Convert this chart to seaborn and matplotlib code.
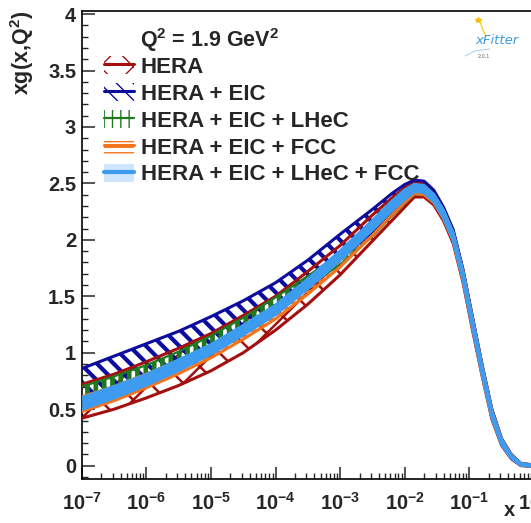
import numpy as np
import pandas as pd
import matplotlib
matplotlib.use("Agg")
import matplotlib.pyplot as plt
import seaborn as sns
from matplotlib.patches import Patch
from matplotlib.lines import Line2D
from matplotlib.ticker import MultipleLocator, LogLocator, FixedLocator, FuncFormatter, NullFormatter

# ---- gluon distribution xg(x, Q^2) at Q^2 = 1.9 GeV^2: uncertainty bands ----
log_x = [-7, -6.5, -6, -5.5, -5, -4.5, -4, -3.5, -3, -2.5, -2.2, -2.0, -1.85, -1.7,
         -1.55, -1.4, -1.25, -1.1, -0.95, -0.8, -0.65, -0.5, -0.35, -0.2, 0]

hera_lo = [0.42, 0.50, 0.60, 0.71, 0.84, 1.00, 1.20, 1.43, 1.69, 1.99, 2.17, 2.29, 2.38, 2.38,
           2.31, 2.17, 1.97, 1.63, 1.20, 0.79, 0.41, 0.18, 0.06, 0.0, -0.007]
hera_hi = [0.72, 0.81, 0.92, 1.04, 1.17, 1.33, 1.50, 1.72, 1.95, 2.22, 2.37, 2.46, 2.51, 2.50,
           2.43, 2.28, 2.08, 1.74, 1.31, 0.89, 0.50, 0.24, 0.10, 0.02, 0.007]

eic_lo = [0.60, 0.69, 0.79, 0.91, 1.04, 1.20, 1.39, 1.60, 1.83, 2.07, 2.25, 2.36, 2.44, 2.43,
          2.35, 2.21, 2.01, 1.67, 1.24, 0.82, 0.435, 0.19, 0.068, 0.004, -0.005]
eic_hi = [0.86, 0.97, 1.08, 1.19, 1.32, 1.46, 1.62, 1.82, 2.05, 2.27, 2.41, 2.49, 2.53, 2.52,
          2.44, 2.29, 2.09, 1.74, 1.31, 0.88, 0.49, 0.235, 0.094, 0.017, 0.006]

lhec_lo = [0.59, 0.68, 0.79, 0.91, 1.05, 1.21, 1.40, 1.59, 1.78, 2.03, 2.21, 2.32, 2.40, 2.40,
           2.33, 2.19, 1.99, 1.65, 1.22, 0.80, 0.425, 0.19, 0.068, 0.004, -0.005]
lhec_hi = [0.70, 0.79, 0.89, 1.01, 1.15, 1.31, 1.49, 1.68, 1.88, 2.12, 2.30, 2.40, 2.47, 2.47,
           2.40, 2.26, 2.06, 1.72, 1.29, 0.87, 0.48, 0.23, 0.092, 0.016, 0.005]

fcc_lo = [0.48, 0.575, 0.69, 0.815, 0.955, 1.12, 1.30, 1.52, 1.76, 2.04, 2.22, 2.33, 2.41, 2.40,
          2.33, 2.19, 1.99, 1.65, 1.22, 0.80, 0.425, 0.19, 0.068, 0.004, -0.005]
fcc_hi = [0.61, 0.70, 0.81, 0.93, 1.06, 1.22, 1.40, 1.62, 1.86, 2.13, 2.31, 2.41, 2.48, 2.47,
          2.40, 2.26, 2.06, 1.72, 1.29, 0.87, 0.48, 0.23, 0.092, 0.016, 0.005]

all_lo = [0.50, 0.60, 0.715, 0.845, 0.99, 1.16, 1.34, 1.57, 1.82, 2.09, 2.26, 2.36, 2.43, 2.42,
          2.34, 2.20, 2.00, 1.66, 1.23, 0.81, 0.43, 0.19, 0.068, 0.004, -0.005]
all_hi = [0.60, 0.70, 0.805, 0.935, 1.07, 1.24, 1.42, 1.65, 1.90, 2.17, 2.34, 2.44, 2.49, 2.48,
          2.40, 2.26, 2.06, 1.72, 1.29, 0.87, 0.48, 0.23, 0.092, 0.016, 0.005]

labels = ["HERA", "HERA + EIC", "HERA + EIC + LHeC", "HERA + EIC + FCC",
          "HERA + EIC + LHeC + FCC"]
x_ticks_exp = [-7, -6, -5, -4, -3, -2, -1, 0]

# ---- styling ----
sns.set_theme(style="ticks")
plt.rcParams.update({
    "font.family": ["Liberation Sans", "DejaVu Sans"],
    "font.weight": "bold",
    "mathtext.fontset": "custom",
    "mathtext.rm": "Liberation Sans:bold",
    "mathtext.it": "Liberation Sans:bold",
    "mathtext.bf": "Liberation Sans:bold",
    "mathtext.default": "rm",
    "axes.linewidth": 1.2,
    "xtick.direction": "in",
    "ytick.direction": "in",
})

RED = "#a3100f"
BLUE = "#0c0c9e"
GREEN = "#1f7a1f"
ORANGE = "#f4731c"
LBLUE = "#3d9cf0"
FS = 14.5
FS_LEG = 16

x = 10.0 ** np.array(log_x, dtype=float)

W, H = 531, 523
fig = plt.figure(figsize=(W / 100, H / 100), dpi=100)
ax_l, ax_r, ax_t, ax_b = 81.7, 533.9, 11.0, 479.0
ax = fig.add_axes([ax_l / W, 1 - ax_b / H, (ax_r - ax_l) / W, (ax_b - ax_t) / H])

bands = [
    (hera_lo, hera_hi, RED, "x", 1.8, 2.2),
    (eic_lo, eic_hi, BLUE, "\\\\", 3.0, 2.2),
    (lhec_lo, lhec_hi, GREEN, "||", 3.4, 1.6),
    (fcc_lo, fcc_hi, ORANGE, "---", 2.0, 2.2),
]

for lo, hi, col, hatch, hlw, elw in bands:
    with plt.rc_context({"hatch.linewidth": hlw, "hatch.color": col}):
        coll = ax.fill_between(x, lo, hi, facecolor="none", edgecolor=col,
                               hatch=hatch, linewidth=0, zorder=2)
        if hasattr(coll, "set_hatch_linewidth"):
            coll.set_hatch_linewidth(hlw)
    sns.lineplot(x=x, y=lo, ax=ax, color=col, lw=elw, zorder=3, legend=False)
    sns.lineplot(x=x, y=hi, ax=ax, color=col, lw=elw, zorder=3, legend=False)

# combined fit: solid band on top
ax.fill_between(x, all_lo, all_hi, facecolor=LBLUE, edgecolor=LBLUE, linewidth=0, zorder=4)
sns.lineplot(x=x, y=all_lo, ax=ax, color=LBLUE, lw=2.4, zorder=5, legend=False)
sns.lineplot(x=x, y=all_hi, ax=ax, color=LBLUE, lw=2.4, zorder=5, legend=False)

# ---- axes ----
ax.set_xscale("log")
ax.set_xlim(1e-7, 1)
ax.set_ylim(-0.118, 4.027)
ax.xaxis.set_major_locator(FixedLocator([10.0 ** e for e in x_ticks_exp]))
ax.xaxis.set_minor_locator(LogLocator(base=10, subs=np.arange(2, 10), numticks=30))
ax.xaxis.set_minor_formatter(NullFormatter())
ax.xaxis.set_major_formatter(FuncFormatter(lambda v, p: r"$10^{%d}$" % round(np.log10(v))))
ax.yaxis.set_major_locator(MultipleLocator(0.5))
ax.yaxis.set_minor_locator(MultipleLocator(0.1))
ax.yaxis.set_major_formatter(FuncFormatter(lambda v, p: f"{v:g}"))
ax.tick_params(which="major", length=9, width=1.1, labelsize=FS, pad=4)
ax.tick_params(axis="x", which="major", pad=9)
ax.tick_params(which="minor", length=4.5, width=1.0)
ax.set_xlabel("")
ax.set_ylabel("")
for s in ax.spines.values():
    s.set_color("black")
    s.set_linewidth(1.2)

fig.text(22 / W, 1 - 11 / H, r"xg(x,Q$^2$)", rotation=90, ha="center", va="top",
         fontsize=15.5, fontweight="bold")
fig.text(509 / W, 1 - 511 / H, "x", ha="center", va="center", fontsize=FS, fontweight="bold")

# ---- legend ----
fig.text(140 / W, 1 - 47 / H, r"Q$^2$ = 1.9 GeV$^2$", ha="left", va="baseline",
         fontsize=15.5, fontweight="bold")

hatch_handles = []
for (lo, hi, col, hatch, hlw, elw) in bands:
    with plt.rc_context({"hatch.linewidth": hlw, "hatch.color": col}):
        p = Patch(facecolor="none", edgecolor=col, hatch=hatch, linewidth=0)
    hatch_handles.append((p, Line2D([], [], color=col, lw=elw)))
hatch_handles.append((Patch(facecolor=LBLUE, alpha=0.25, linewidth=0),
                      Line2D([], [], color=LBLUE, lw=3)))

leg = ax.legend(hatch_handles, labels, loc="upper left",
                bbox_to_anchor=(104 / W, 1 - 56 / H), bbox_transform=fig.transFigure,
                frameon=False, fontsize=FS_LEG, handlelength=1.35, handleheight=0.9,
                handletextpad=0.3, labelspacing=0.225, borderpad=0, borderaxespad=0)
for t in leg.get_texts():
    t.set_fontweight("bold")

# ---- xFitter mark ----
fig.text(497 / W, 1 - 41 / H, "xFitter", ha="center", va="center", fontsize=9.5,
         style="italic", fontweight="normal", color="#3e9be0", family="DejaVu Sans")
fig.text(484 / W, 1 - 57 / H, "2.0.1", ha="center", va="center", fontsize=3.5,
         fontweight="normal", color="#666666", family="DejaVu Sans")
fig.add_artist(Line2D([480 / W, 483 / W, 486 / W], [1 - 22 / H, 1 - 30 / H, 1 - 36 / H],
                      color="#f5c000", lw=1.0, alpha=0.8))
fig.add_artist(Line2D([478 / W], [1 - 20 / H], marker="*", color="#f5c000", ms=4))
fig.add_artist(Line2D([465 / W, 475 / W, 490 / W], [1 - 56 / H, 1 - 51 / H, 1 - 49 / H],
                      color="#8cc4f0", lw=0.8, alpha=0.7))

fig.savefig("out.png", dpi=100)
